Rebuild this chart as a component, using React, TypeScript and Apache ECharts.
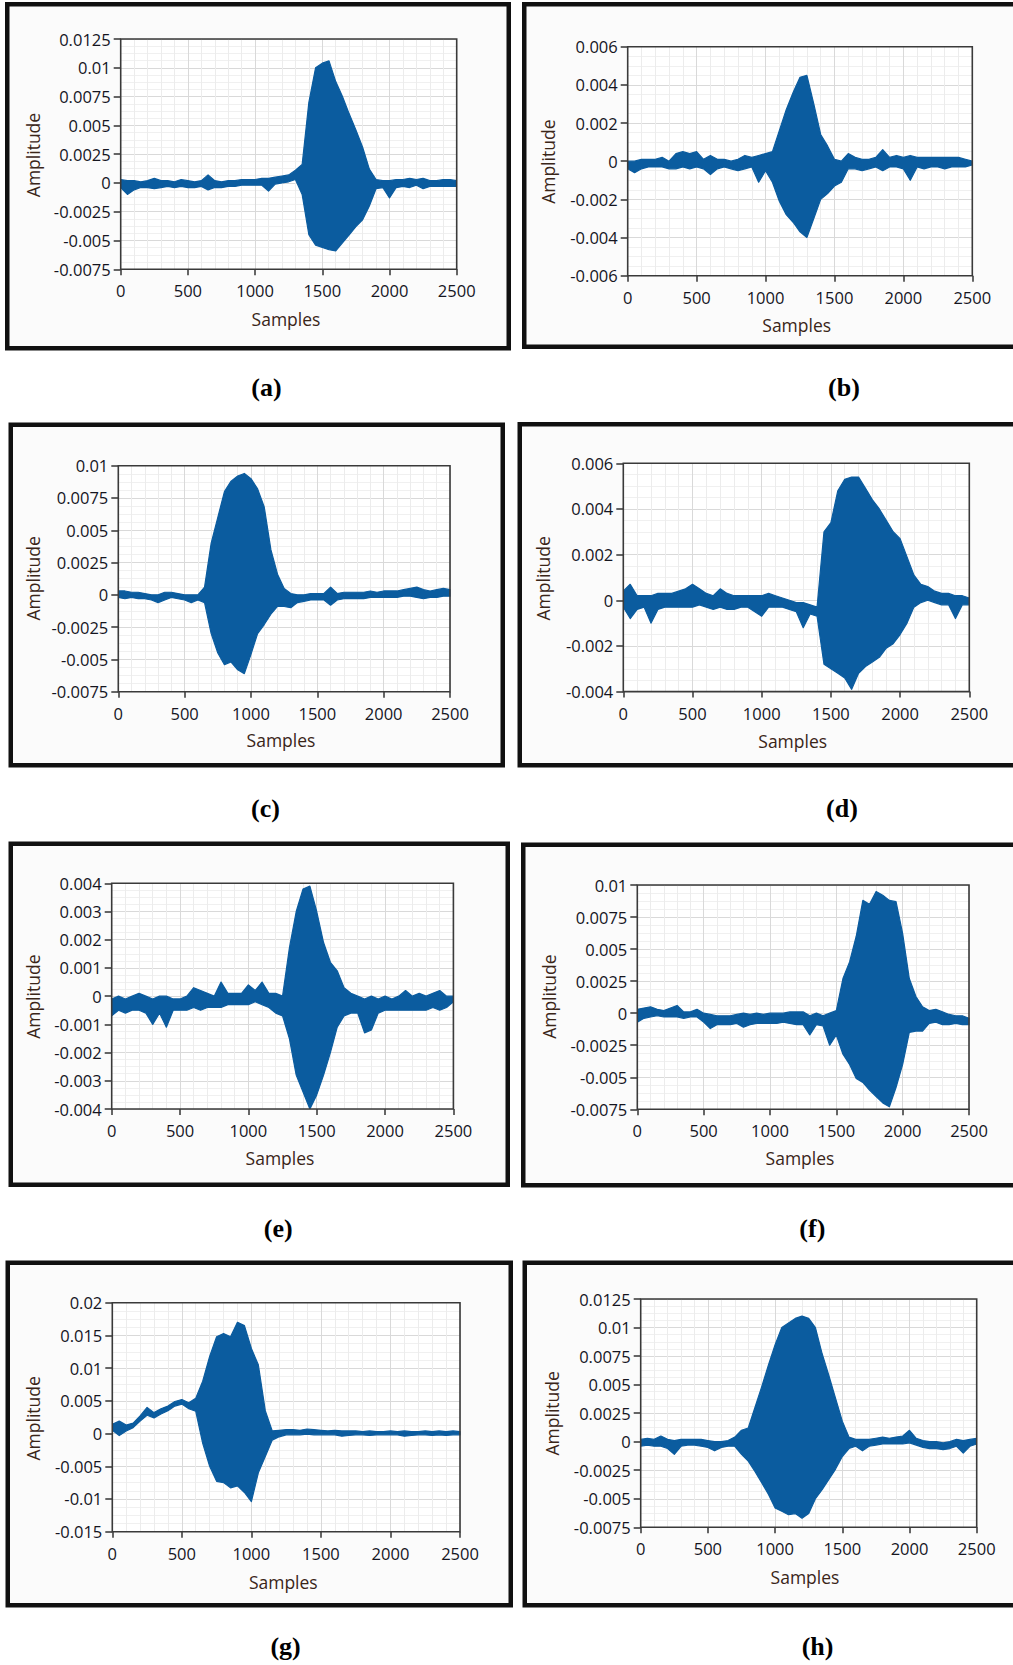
import React, { useEffect, useRef } from "react";
import * as echarts from "echarts";

const SAMPLE_POS = [
  0, 50, 100, 150, 200, 250, 300, 350, 400, 450, 500, 550, 600, 650, 700, 750, 800, 850, 900, 950,
  1000, 1050, 1100, 1150, 1200, 1250, 1300, 1350, 1400, 1450, 1500, 1550, 1600, 1650, 1700, 1750,
  1800, 1850, 1900, 1950, 2000, 2050, 2100, 2150, 2200, 2250, 2300, 2350, 2400, 2450, 2500,
];

// (a)
const aUpper = [0.0003, 0.0002, 0.0002, 0.0001, 0.0002, 0.0004, 0.0002, 0.0002, 0.0001, 0.0003, 0.0002, 0.0001, 0.0002, 0.0007, 0.0002, 0.0001, 0.0002, 0.0002, 0.0003, 0.0003, 0.0003, 0.0004, 0.0004, 0.0005, 0.0006, 0.0007, 0.0011, 0.0016, 0.007, 0.01, 0.0104, 0.0106, 0.0088, 0.0075, 0.006, 0.0046, 0.0031, 0.0012, 0.0003, 0.0002, 0.0002, 0.0003, 0.0003, 0.0004, 0.0003, 0.0004, 0.0002, 0.0002, 0.0003, 0.0003, 0.0002];
const aLower = [-0.0004, -0.001, -0.0006, -0.0004, -0.0004, -0.0005, -0.0004, -0.0003, -0.0004, -0.0003, -0.0004, -0.0004, -0.0003, -0.0006, -0.0004, -0.0004, -0.0003, -0.0003, -0.0002, -0.0002, -0.0002, -0.0002, -0.0007, -0.0001, 0.0, 0.0001, 0.0003, -0.001, -0.0045, -0.0054, -0.0056, -0.0058, -0.0059, -0.0052, -0.0045, -0.0038, -0.0032, -0.002, -0.0005, -0.0004, -0.0013, -0.0004, -0.0003, -0.0004, -0.0002, -0.0005, -0.0003, -0.0003, -0.0003, -0.0003, -0.0003];
// (b)
const bUpper = [0.0, 0.0, 0.0001, 0.0001, 0.0001, 0.0002, 0.0, 0.0004, 0.0005, 0.0004, 0.0005, 0.0001, 0.0003, 0.0001, 0.0001, 0.0, 0.0001, 0.0003, 0.0002, 0.0003, 0.0004, 0.0005, 0.0016, 0.0027, 0.0036, 0.0044, 0.0045, 0.003, 0.0014, 0.0008, 0.0001, 0.0, 0.0004, 0.0002, 0.0001, 0.0001, 0.0002, 0.0006, 0.0002, 0.0003, 0.0002, 0.0003, 0.0002, 0.0002, 0.0002, 0.0002, 0.0002, 0.0002, 0.0002, 0.0001, 0.0];
const bLower = [-0.0004, -0.0006, -0.0004, -0.0003, -0.0003, -0.0003, -0.0004, -0.0004, -0.0003, -0.0004, -0.0003, -0.0004, -0.0007, -0.0004, -0.0003, -0.0004, -0.0005, -0.0004, -0.0003, -0.0011, -0.0005, -0.0011, -0.0021, -0.0028, -0.0032, -0.0037, -0.004, -0.003, -0.002, -0.0017, -0.0013, -0.0011, -0.0004, -0.0004, -0.0005, -0.0004, -0.0003, -0.0005, -0.0003, -0.0003, -0.0004, -0.001, -0.0003, -0.0004, -0.0003, -0.0003, -0.0004, -0.0003, -0.0003, -0.0003, -0.0002];
// (c)
const cUpper = [0.0003, 0.0003, 0.0002, 0.0002, 0.0001, 0.0, 0.0, 0.0002, 0.0002, 0.0001, 0.0, 0.0, 0.0, 0.0006, 0.004, 0.006, 0.008, 0.0088, 0.0092, 0.0094, 0.009, 0.0082, 0.0068, 0.0035, 0.0016, 0.0005, 0.0001, 0.0, 0.0, 0.0001, 0.0001, 0.0001, 0.0006, 0.0001, 0.0002, 0.0002, 0.0002, 0.0002, 0.0003, 0.0002, 0.0003, 0.0003, 0.0003, 0.0004, 0.0005, 0.0006, 0.0004, 0.0003, 0.0004, 0.0005, 0.0004];
const cLower = [-0.0002, -0.0003, -0.0002, -0.0003, -0.0003, -0.0004, -0.0006, -0.0004, -0.0002, -0.0003, -0.0004, -0.0006, -0.0004, -0.0006, -0.003, -0.0045, -0.0054, -0.0052, -0.0058, -0.0061, -0.0046, -0.003, -0.0023, -0.0015, -0.0009, -0.0009, -0.001, -0.0006, -0.0005, -0.0004, -0.0004, -0.0004, -0.0008, -0.0004, -0.0003, -0.0003, -0.0003, -0.0003, -0.0002, -0.0002, -0.0002, -0.0002, -0.0002, -0.0001, -0.0001, -0.0002, -0.0003, -0.0002, -0.0002, -0.0001, -0.0001];
// (d)
const dUpper = [0.0004, 0.0007, 0.0002, 0.0002, 0.0002, 0.0003, 0.0003, 0.0003, 0.0004, 0.0005, 0.0007, 0.0005, 0.0003, 0.0002, 0.0005, 0.0003, 0.0002, 0.0002, 0.0002, 0.0002, 0.0002, 0.0003, 0.0002, 0.0001, 0.0, -0.0001, -0.0001, -0.0002, -0.0003, 0.003, 0.0034, 0.0048, 0.0053, 0.0054, 0.0054, 0.0049, 0.0044, 0.004, 0.0035, 0.003, 0.0027, 0.0019, 0.0011, 0.0007, 0.0006, 0.0004, 0.0003, 0.0003, 0.0002, 0.0002, 0.0001];
const dLower = [-0.0003, -0.0008, -0.0004, -0.0003, -0.001, -0.0004, -0.0003, -0.0003, -0.0003, -0.0003, -0.0003, -0.0002, -0.0003, -0.0004, -0.0003, -0.0004, -0.0004, -0.0003, -0.0003, -0.0005, -0.0007, -0.0003, -0.0003, -0.0003, -0.0004, -0.0005, -0.0012, -0.0006, -0.0007, -0.0028, -0.003, -0.0032, -0.0034, -0.0039, -0.0032, -0.0029, -0.0027, -0.0025, -0.0021, -0.0019, -0.0015, -0.001, -0.0003, -0.0001, 0.0, -0.0001, -0.0002, -0.0002, -0.0008, -0.0002, -0.0002];
// (e)
const eUpper = [-0.0001, 0.0, -0.0001, 0.0, 0.0001, 0.0, -0.0001, 0.0, 0.0, -0.0001, -0.0001, 0.0, 0.0003, 0.0002, 0.0001, 0.0, 0.0005, 0.0001, 0.0001, 0.0001, 0.0004, 0.0002, 0.0005, 0.0001, 0.0001, 0.0, 0.0017, 0.003, 0.0038, 0.0039, 0.003, 0.0019, 0.0012, 0.0009, 0.0003, 0.0001, 0.0, -0.0001, 0.0, -0.0001, 0.0, -0.0001, 0.0, 0.0002, 0.0, 0.0001, 0.0, 0.0001, 0.0002, 0.0, 0.0];
const eLower = [-0.0007, -0.0005, -0.0006, -0.0005, -0.0005, -0.0006, -0.001, -0.0006, -0.0011, -0.0005, -0.0005, -0.0005, -0.0004, -0.0005, -0.0004, -0.0004, -0.0004, -0.0003, -0.0003, -0.0003, -0.0003, -0.0002, -0.0003, -0.0004, -0.0006, -0.0007, -0.0015, -0.0028, -0.0034, -0.004, -0.0035, -0.0028, -0.002, -0.0011, -0.0007, -0.0006, -0.0006, -0.0013, -0.0012, -0.0006, -0.0005, -0.0005, -0.0005, -0.0005, -0.0005, -0.0005, -0.0005, -0.0004, -0.0005, -0.0004, -0.0002];
// (f)
const fUpper = [0.0003, 0.0004, 0.0005, 0.0003, 0.0002, 0.0004, 0.0006, 0.0001, 0.0001, 0.0003, 0.0, -0.0001, -0.0002, -0.0002, -0.0002, -0.0001, 0.0, -0.0001, 0.0, -0.0001, 0.0, 0.0, 0.0, 0.0001, 0.0001, 0.0001, -0.0002, 0.0, -0.0002, 0.0, 0.0002, 0.0027, 0.004, 0.006, 0.0088, 0.0085, 0.0095, 0.0092, 0.0088, 0.0087, 0.0062, 0.0027, 0.0013, 0.0005, 0.0002, 0.0003, 0.0001, -0.0001, -0.0002, -0.0002, -0.0004];
const fLower = [-0.0007, -0.0004, -0.0003, -0.0002, -0.0003, -0.0003, -0.0003, -0.0004, -0.0003, -0.0003, -0.0007, -0.0012, -0.0009, -0.0009, -0.0009, -0.0008, -0.0011, -0.0009, -0.0008, -0.0008, -0.0008, -0.0008, -0.0007, -0.0008, -0.0009, -0.0009, -0.0017, -0.0009, -0.001, -0.0025, -0.0017, -0.0032, -0.004, -0.0051, -0.0054, -0.006, -0.0065, -0.007, -0.0073, -0.0058, -0.004, -0.0015, -0.0014, -0.0014, -0.0008, -0.0007, -0.0009, -0.0009, -0.0008, -0.0009, -0.0009];
// (g)
const gUpper = [0.0014, 0.0019, 0.0013, 0.0016, 0.0027, 0.004, 0.0032, 0.0038, 0.0042, 0.0049, 0.0052, 0.0047, 0.0054, 0.008, 0.0118, 0.0148, 0.0153, 0.0148, 0.017, 0.0165, 0.013, 0.0105, 0.0035, 0.0004, 0.0005, 0.0006, 0.0006, 0.0005, 0.0007, 0.0006, 0.0005, 0.0004, 0.0005, 0.0004, 0.0004, 0.0004, 0.0003, 0.0004, 0.0003, 0.0003, 0.0004, 0.0003, 0.0004, 0.0003, 0.0003, 0.0004, 0.0003, 0.0004, 0.0003, 0.0004, 0.0003];
const gLower = [0.0005, -0.0003, 0.0004, 0.0009, 0.0019, 0.0028, 0.0024, 0.003, 0.0035, 0.0042, 0.0045, 0.0038, 0.0034, -0.0015, -0.005, -0.0073, -0.0075, -0.0083, -0.008, -0.009, -0.0104, -0.006, -0.0035, -0.001, -0.0005, -0.0002, -0.0002, -0.0002, -0.0001, -0.0002, -0.0002, -0.0002, -0.0002, -0.0004, -0.0003, -0.0002, -0.0002, -0.0003, -0.0002, -0.0002, -0.0002, -0.0002, -0.0004, -0.0003, -0.0002, -0.0002, -0.0003, -0.0002, -0.0003, -0.0002, -0.0002];
// (h)
const hUpper = [0.0002, 0.0003, 0.0002, 0.0005, 0.0002, 0.0001, 0.0002, 0.0002, 0.0002, 0.0002, 0.0001, 0.0, 0.0, 0.0001, 0.0004, 0.001, 0.0012, 0.003, 0.0048, 0.0067, 0.0085, 0.01, 0.0104, 0.0108, 0.011, 0.0108, 0.01, 0.0077, 0.0058, 0.0038, 0.0018, 0.0004, 0.0002, 0.0002, 0.0002, 0.0003, 0.0004, 0.0003, 0.0004, 0.0005, 0.001, 0.0003, 0.0001, 0.0, 0.0, -0.0001, 0.0, 0.0002, 0.0001, 0.0002, 0.0003];
const hLower = [-0.0004, -0.0003, -0.0004, -0.0004, -0.0006, -0.0011, -0.0004, -0.0003, -0.0003, -0.0004, -0.0005, -0.0008, -0.0005, -0.0004, -0.0004, -0.0011, -0.0017, -0.0026, -0.0036, -0.0046, -0.0058, -0.0061, -0.0064, -0.0063, -0.0067, -0.0063, -0.005, -0.0042, -0.0033, -0.0024, -0.0013, -0.0006, -0.0004, -0.0008, -0.0004, -0.0003, -0.0002, -0.0002, -0.0002, -0.0002, -0.0001, -0.0003, -0.0005, -0.0006, -0.0006, -0.0007, -0.0006, -0.0004, -0.001, -0.0004, -0.0002];

const PANEL_NAMES = ["(a)", "(b)", "(c)", "(d)", "(e)", "(f)", "(g)", "(h)"];
const UPPERS = [aUpper, bUpper, cUpper, dUpper, eUpper, fUpper, gUpper, hUpper];
const LOWERS = [aLower, bLower, cLower, dLower, eLower, fLower, gLower, hLower];
const Y_MIN = [-0.0075, -0.006, -0.0075, -0.004, -0.004, -0.0075, -0.015, -0.0075];
const Y_MAX = [0.0125, 0.006, 0.01, 0.006, 0.004, 0.01, 0.02, 0.0125];
const Y_STEP = [0.0025, 0.002, 0.0025, 0.002, 0.001, 0.0025, 0.005, 0.0025];
const X_MIN = 0;
const X_MAX = 2500;
const X_STEP = 500;
const Y_NAME = "Amplitude";
const X_NAME = "Samples";

// Layout (pixels): grid [left, top, width, height], border [x1, y1, x2, y2], axis-name centres, caption centre
const LAYOUT = [
  { grid: [120.7, 39, 336, 230.3], border: [5, 2, 511, 350.5], amp: [33, 155], smp: [286, 319], cap: [266.5, 387.5] },
  { grid: [627.7, 46.7, 344.6, 229], border: [522, 2, 1030, 349], amp: [548, 161.7], smp: [796.7, 325], cap: [844, 387.5] },
  { grid: [118.3, 465.7, 331.7, 226], border: [8.5, 422.6, 505, 767.5], amp: [33, 578.3], smp: [281, 740], cap: [265.5, 808] },
  { grid: [623.3, 463.3, 346, 228.3], border: [517.5, 422, 1030, 767.5], amp: [543.3, 578.3], smp: [792.7, 741], cap: [842, 808] },
  { grid: [111.7, 883.3, 341.7, 225.7], border: [8.5, 841.5, 510, 1187], amp: [33, 996.7], smp: [280, 1158.3], cap: [278.2, 1228.5] },
  { grid: [637.3, 885, 331.7, 224.3], border: [521, 842.5, 1030, 1187.5], amp: [549.3, 996.7], smp: [800, 1158.3], cap: [812.3, 1228.5] },
  { grid: [112.3, 1302.7, 347.7, 229], border: [5.5, 1260.5, 513, 1607.5], amp: [33, 1418.3], smp: [283.3, 1581.7], cap: [285.6, 1646.8] },
  { grid: [640.7, 1299, 336, 228.3], border: [522.5, 1260.5, 1030, 1607.5], amp: [551.7, 1413.3], smp: [805, 1576.7], cap: [817.6, 1646.8] },
];

const BLUE = "#0b5c9f";
const LABEL_COLOR = "#15151f";
const NAME_COLOR = "#3a2518";
const SANS = "'Open Sans', 'DejaVu Sans', sans-serif";
const BORDER_W = 4.5;

function fmt(v: number) {
  const s = parseFloat(Number(v).toPrecision(6));
  return s === 0 ? "0" : String(s);
}

function buildOption() {
  const grids: any[] = [];
  const xAxes: any[] = [];
  const yAxes: any[] = [];
  const series: any[] = [];
  const graphics: any[] = [];

  LAYOUT.forEach((L, i) => {
    const [gl, gt, gw, gh] = L.grid;
    grids.push({
      left: gl,
      top: gt,
      width: gw,
      height: gh,
      show: true,
      borderColor: "transparent",
      borderWidth: 0,
      backgroundColor: "#ffffff",
      containLabel: false,
    });
    xAxes.push({
      type: "value",
      gridIndex: i,
      min: X_MIN,
      max: X_MAX,
      interval: X_STEP,
      axisLine: { show: false, onZero: false },
      axisTick: { show: true, inside: false, length: 6, lineStyle: { color: "#333", width: 1.5 } },
      axisLabel: { show: true, margin: 13, color: LABEL_COLOR, fontSize: 16.5, fontFamily: SANS, formatter: fmt },
      splitLine: { show: true, lineStyle: { color: "#d9d9d9", width: 1 } },
      minorTick: { show: false, splitNumber: 5 },
      minorSplitLine: { show: true, lineStyle: { color: "#ececec", width: 1 } },
    });
    yAxes.push({
      type: "value",
      gridIndex: i,
      min: Y_MIN[i],
      max: Y_MAX[i],
      interval: Y_STEP[i],
      axisLine: { show: false, onZero: false },
      axisTick: { show: true, inside: false, length: 7, lineStyle: { color: "#333", width: 1.5 } },
      axisLabel: { show: true, margin: 10, color: LABEL_COLOR, fontSize: 16.5, fontFamily: SANS, formatter: fmt },
      splitLine: { show: true, lineStyle: { color: "#d9d9d9", width: 1 } },
      minorTick: { show: false, splitNumber: 4 },
      minorSplitLine: { show: true, lineStyle: { color: "#f0f0f0", width: 1 } },
    });

    const up = UPPERS[i];
    const lo = LOWERS[i];
    series.push({
      type: "custom",
      xAxisIndex: i,
      yAxisIndex: i,
      clip: true,
      silent: true,
      z: 5,
      encode: { x: 0, y: [1, 2] },
      data: SAMPLE_POS.map((x, k) => [x, lo[k], up[k]]),
      renderItem: (params: any, api: any) => {
        if (params.dataIndexInside !== 0) return null;
        const n = params.dataInsideLength;
        const top: number[][] = [];
        const bot: number[][] = [];
        for (let j = 0; j < n; j++) {
          const xv = api.value(0, j);
          top.push(api.coord([xv, api.value(2, j)]));
          bot.push(api.coord([xv, api.value(1, j)]));
        }
        return {
          type: "polygon",
          shape: { points: top.concat(bot.reverse()) },
          style: { fill: BLUE, stroke: BLUE, lineWidth: 1.2, lineJoin: "round" },
        };
      },
    });

    const [bx1, by1, bx2, by2] = L.border;
    graphics.push({
      type: "rect",
      z: -10,
      shape: {
        x: bx1 + BORDER_W / 2,
        y: by1 + BORDER_W / 2,
        width: bx2 - bx1 - BORDER_W,
        height: by2 - by1 - BORDER_W,
      },
      style: { fill: "#fbfbfb", stroke: "#111", lineWidth: BORDER_W },
      silent: true,
    });
    // plot-area frame drawn above the grid lines
    graphics.push({
      type: "rect",
      z: 100,
      shape: { x: gl, y: gt, width: gw, height: gh },
      style: { fill: "none", stroke: "#3a3a3a", lineWidth: 1.6 },
      silent: true,
    });
    graphics.push({
      type: "text",
      x: L.amp[0],
      y: L.amp[1],
      rotation: Math.PI / 2,
      style: {
        text: Y_NAME,
        fill: NAME_COLOR,
        font: `17.5px ${SANS}`,
        align: "center",
        verticalAlign: "middle",
      },
      silent: true,
    });
    graphics.push({
      type: "text",
      x: L.smp[0],
      y: L.smp[1],
      style: {
        text: X_NAME,
        fill: NAME_COLOR,
        font: `17.5px ${SANS}`,
        align: "center",
        verticalAlign: "middle",
      },
      silent: true,
    });
    graphics.push({
      type: "text",
      x: L.cap[0],
      y: L.cap[1],
      style: {
        text: PANEL_NAMES[i],
        fill: "#000",
        font: `bold 26px 'Liberation Serif', 'Times New Roman', serif`,
        align: "center",
        verticalAlign: "middle",
      },
      silent: true,
    });
  });

  return {
    animation: false,
    backgroundColor: "#ffffff",
    grid: grids,
    xAxis: xAxes,
    yAxis: yAxes,
    series,
    graphic: { elements: graphics },
  };
}

export default function App() {
  const ref = useRef<HTMLDivElement>(null);
  useEffect(() => {
    document.body.style.margin = "0";
    if (!ref.current) return;
    const chart = echarts.init(ref.current, undefined, { renderer: "svg" });
    chart.setOption(buildOption() as any);
    return () => {
      chart.dispose();
    };
  }, []);
  return <div ref={ref} style={{ width: 1013, height: 1665 }} />;
}
